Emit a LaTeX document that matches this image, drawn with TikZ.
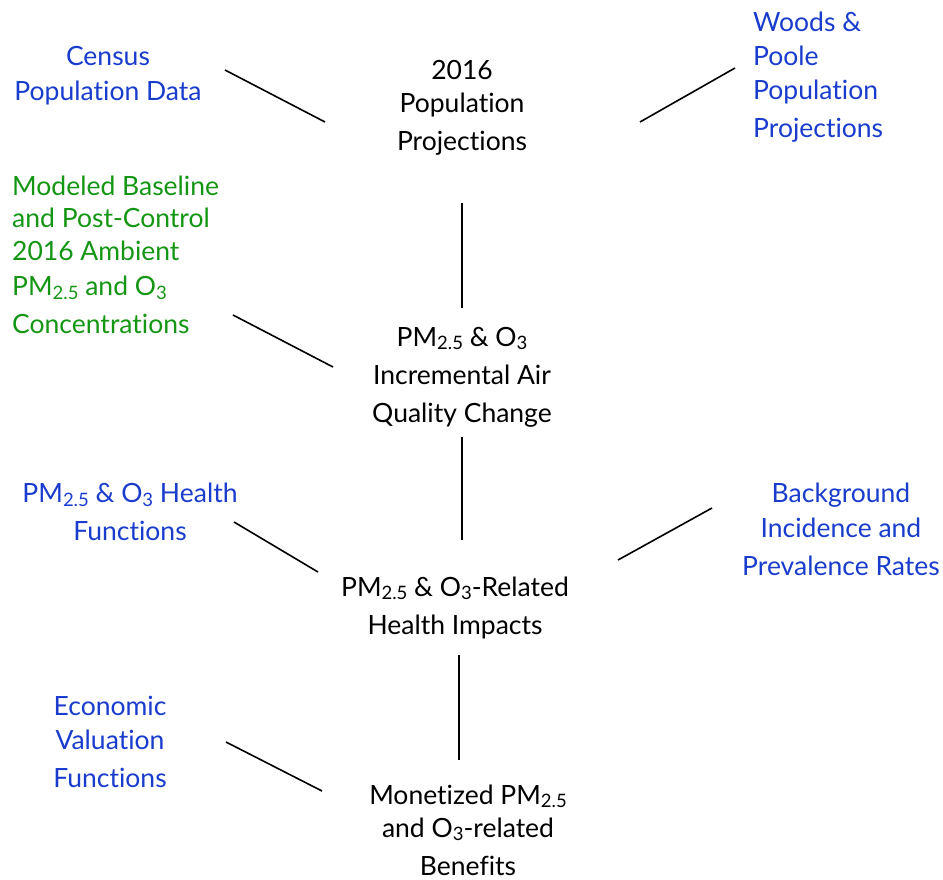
\documentclass[tikz,border=0pt]{standalone}
\usepackage{fontspec}
\setmainfont[Ligatures=NoCommon]{Lato}
\definecolor{srcblue}{RGB}{25,60,205}
\definecolor{srcgreen}{RGB}{20,150,20}
\newcommand{\lowr}[1]{\raisebox{-0.25ex}{\fontsize{18.5}{18.5}\selectfont #1}}
\tikzset{step box/.style = {align=center, inner sep=0pt, font=\fontsize{26.5}{38}\selectfont},
         input box/.style = {step box, text=srcblue},
         link/.style = {line width=1.6pt}}

\begin{document}
\begin{tikzpicture}[x=1pt,y=-1pt]
\useasboundingbox (0,0) rectangle (943,879);
% main chain
\node [step box] (popproj) at (462,108) {2016\\[-5pt]Population\\Projections};
\node [step box] (aq) at (462,377) {PM\lowr{2.5} \& O\lowr{3}\\Incremental Air\\Quality Change};
\node [step box] (health) at (455,608) {PM\lowr{2.5} \& O\lowr{3}-Related\\Health Impacts};
\node [step box] (monet) at (468,830) {Monetized PM\lowr{2.5}\\[-5pt]and O\lowr{3}-related\\Benefits};
% inputs
\node [input box] (census) at (108,76) {Census\\[-3pt]Population Data};
\node [input box, anchor=west, align=left] (woods) at (753,77) {Woods \&\\[-4pt]Poole\\[-4pt]Population\\Projections};
\node [input box, anchor=west, align=left, text=srcgreen] (model) at (12,255) {Modeled Baseline\\[-6pt]and Post-Control\\[-5pt]2016 Ambient\\[-3pt]PM\lowr{2.5} and O\lowr{3}\\Concentrations};
\node [input box] (hfun) at (130,512) {PM\lowr{2.5} \& O\lowr{3} Health\\Functions};
\node [input box] (bg) at (841,529) {Background\\[-3pt]Incidence and\\Prevalence Rates};
\node [input box] (econ) at (110,742) {Economic\\[-4pt]Valuation\\Functions};
% connectors
\draw [link] ([shift={(117,-6)}]census.center) -- ([shift={(-137,14)}]popproj.center);
\draw [link] ([shift={(-18,-9)}]woods.west) -- ([shift={(178,14)}]popproj.center);
\draw [link] ([shift={(0,95)}]popproj.center) -- ([shift={(0,-69)}]aq.center);
\draw [link] ([shift={(221,60)}]model.west) -- ([shift={(-129,-10)}]aq.center);
\draw [link] ([shift={(0,60)}]aq.center) -- ([shift={(7,-68)}]health.center);
\draw [link] ([shift={(104,10)}]hfun.center) -- ([shift={(-137,-36)}]health.center);
\draw [link] ([shift={(-129,-21)}]bg.center) -- ([shift={(163,-48)}]health.center);
\draw [link] ([shift={(4,47)}]health.center) -- ([shift={(-9,-70)}]monet.center);
\draw [link] ([shift={(116,0)}]econ.center) -- ([shift={(-146,-39)}]monet.center);
\end{tikzpicture}
\end{document}
